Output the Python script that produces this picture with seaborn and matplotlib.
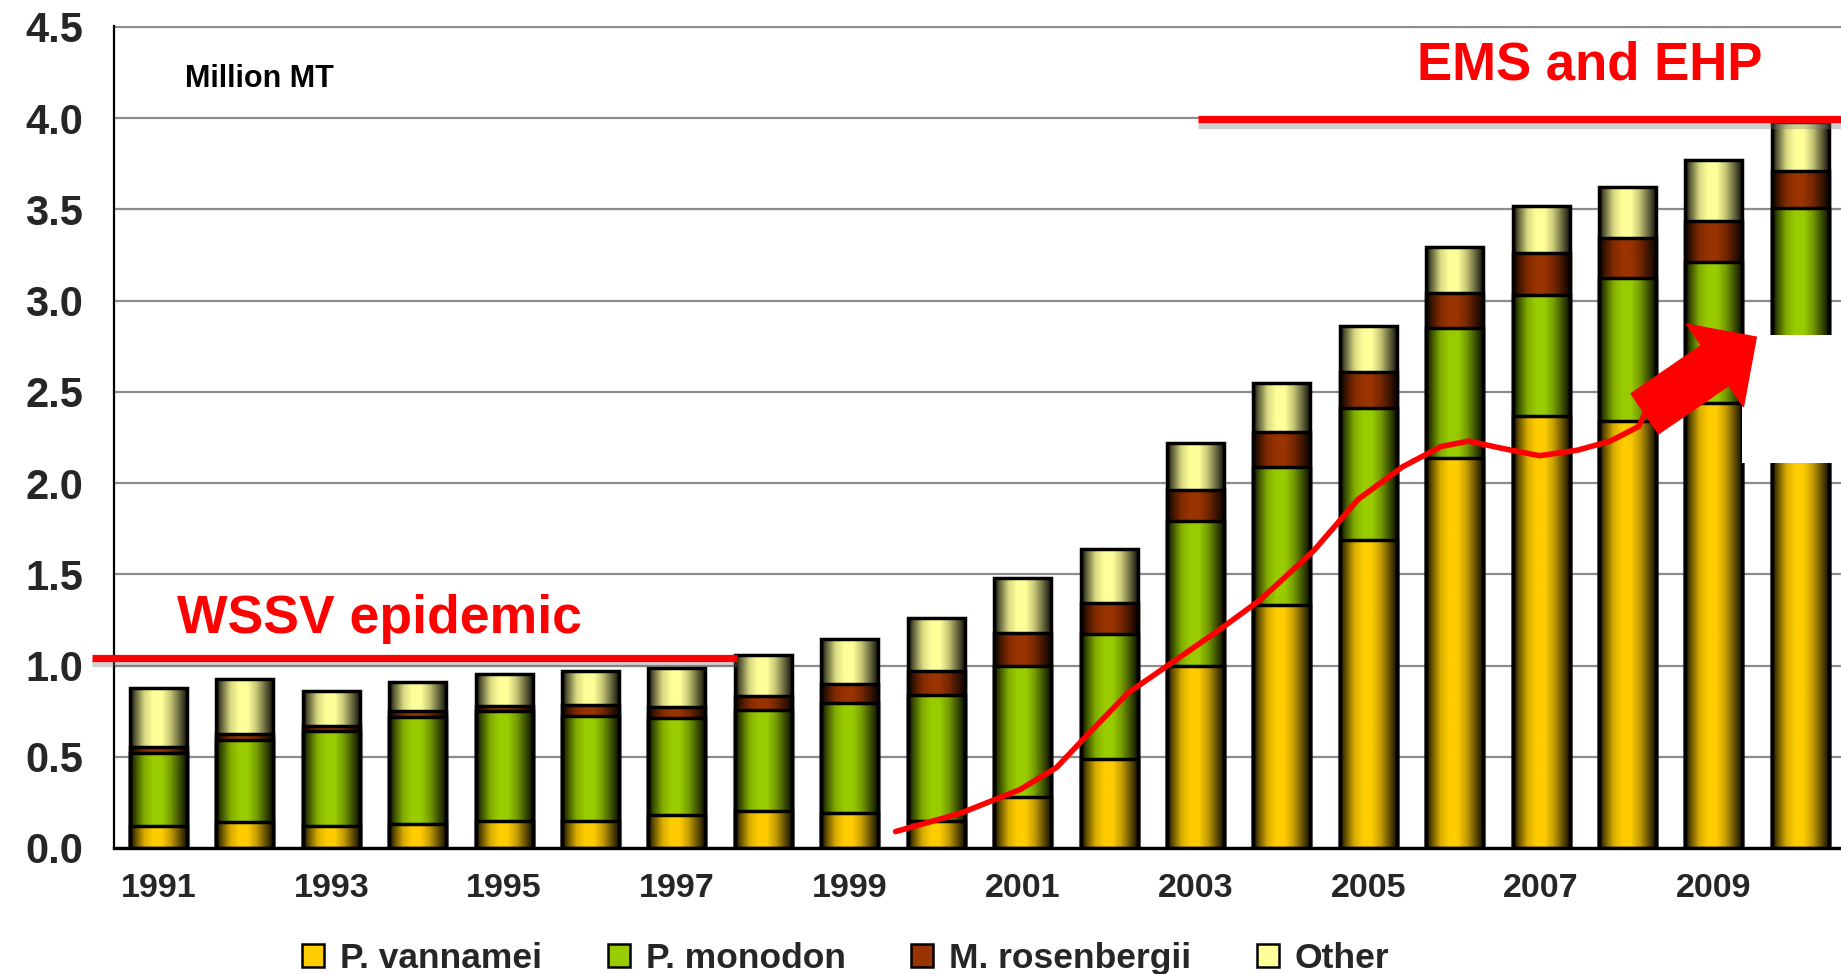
import numpy as np
import pandas as pd
import matplotlib
matplotlib.use("Agg")
import matplotlib.pyplot as plt
import seaborn as sns
from matplotlib.patches import Rectangle, Patch, FancyArrowPatch, ArrowStyle
import matplotlib.patheffects as pe

# Farmed shrimp production by species, million metric tonnes
years = list(range(1991, 2011))
vannamei = [0.12, 0.14, 0.12, 0.13, 0.15, 0.15, 0.18, 0.20, 0.19, 0.15,
            0.28, 0.49, 1.00, 1.33, 1.69, 2.14, 2.37, 2.34, 2.44, 2.60]
monodon = [0.40, 0.45, 0.52, 0.59, 0.60, 0.575, 0.53, 0.555, 0.605, 0.69,
           0.72, 0.68, 0.79, 0.76, 0.72, 0.71, 0.66, 0.785, 0.77, 0.91]
rosenbergii = [0.035, 0.035, 0.03, 0.03, 0.03, 0.06, 0.065, 0.08, 0.105, 0.13,
               0.18, 0.17, 0.17, 0.19, 0.20, 0.19, 0.23, 0.22, 0.225, 0.20]
other = [0.32, 0.30, 0.19, 0.16, 0.175, 0.185, 0.21, 0.225, 0.245, 0.29,
         0.30, 0.30, 0.26, 0.27, 0.25, 0.255, 0.26, 0.275, 0.335, 0.27]

species = ["P. vannamei", "P. monodon", "M. rosenbergii", "Other"]
colors = ["#FFCC00", "#99CC00", "#993300", "#FFFF99"]

# Annotation trend curve (x = bar index, y = million MT)
trend_x = [8.53, 9.28, 9.97, 10.39, 10.73, 11.22, 11.71, 12.26, 12.75, 13.37,
           13.88, 14.40, 14.84, 15.16, 15.55, 15.98, 16.42, 16.80, 17.13, 17.20]
trend_y = [0.09, 0.19, 0.32, 0.44, 0.61, 0.85, 1.01, 1.19, 1.36, 1.63,
           1.91, 2.09, 2.20, 2.23, 2.19, 2.15, 2.18, 2.23, 2.31, 2.38]

sns.set_theme(style="white")
plt.rcParams["font.family"] = ["Liberation Sans", "DejaVu Sans"]
plt.rcParams["font.weight"] = "bold"

df = pd.DataFrame({
    "year": [str(y) for y in years],
    "vannamei": vannamei,
    "monodon": monodon,
    "rosenbergii": rosenbergii,
    "other": other,
})
df["c1"] = df["vannamei"]
df["c2"] = df["c1"] + df["monodon"]
df["c3"] = df["c2"] + df["rosenbergii"]
df["c4"] = df["c3"] + df["other"]

fig, ax = plt.subplots(figsize=(18.41, 9.74), dpi=100)
fig.subplots_adjust(left=0.0619, right=1.0, bottom=0.1294, top=0.9733)

# horizontal cylinder-like shading across each bar
prof_t = [0.0, 0.08, 0.25, 0.40, 0.55, 0.70, 0.85, 1.0]
prof_f = [0.03, 0.35, 0.85, 1.0, 1.0, 0.78, 0.42, 0.05]


def shade_img(color):
    rgb = np.array(matplotlib.colors.to_rgb(color))
    t = np.linspace(0, 1, 80)
    f = np.interp(t, prof_t, prof_f)
    return (f[:, None] * rgb[None, :])[None, :, :]


layers = [("c4", colors[3]), ("c3", colors[2]), ("c2", colors[1]), ("c1", colors[0])]
for k, (col, color) in enumerate(layers):
    n0 = len(ax.patches)
    z = 3 + 2 * k
    sns.barplot(data=df, x="year", y=col, color=color, saturation=1,
                width=0.66, edgecolor="black", linewidth=2.5,
                errorbar=None, ax=ax, zorder=z + 1)
    img = shade_img(color)
    for p in ax.patches[n0:]:
        x0, w, h = p.get_x(), p.get_width(), p.get_height()
        ax.imshow(img, extent=[x0, x0 + w, 0, h], aspect="auto",
                  interpolation="bilinear", zorder=z)
        p.set_facecolor("none")

ax.set_xlim(-0.515, 19.47)
ax.set_ylim(0, 4.505)

ax.yaxis.grid(True, color="#8c8c8c", linewidth=1.6)
ax.xaxis.grid(False)
ax.set_axisbelow(True)
for s in ["top", "right"]:
    ax.spines[s].set_visible(False)
ax.spines["left"].set_color("black")
ax.spines["left"].set_linewidth(1.6)
ax.spines["bottom"].set_color("black")
ax.spines["bottom"].set_linewidth(2.4)
ax.spines["bottom"].set_zorder(12)

ax.set_yticks(np.arange(0, 4.51, 0.5))
ax.set_yticklabels([f"{v:.1f}" for v in np.arange(0, 4.51, 0.5)],
                   fontsize=30, fontweight="bold")
ax.set_xticks(range(0, 20, 2))
ax.set_xticklabels([str(y) for y in years[::2]], fontsize=24.5, fontweight="bold")
ax.tick_params(axis="y", length=0, pad=22)
ax.tick_params(axis="x", length=0, pad=18)
ax.set_xlabel("")
ax.set_ylabel("")

ax.text(0.307, 4.169, "Million MT", fontsize=22, fontweight="bold",
        color="black", ha="left", va="baseline")

shadow = [pe.SimpleLineShadow(offset=(0, -4), shadow_color="#777777", alpha=0.35),
          pe.Normal()]
ax.plot([-0.77, 6.70], [1.043, 1.043], color="red", lw=5.2,
        solid_capstyle="butt", clip_on=False, zorder=14, path_effects=shadow)
ax.text(0.21, 1.176, "WSSV epidemic", color="red", fontsize=38.5,
        fontweight="bold", ha="left", va="baseline", zorder=14)

ax.plot([12.03, 19.6], [3.995, 3.995], color="red", lw=5.2,
        solid_capstyle="butt", zorder=14, path_effects=shadow)
ax.text(14.56, 4.21, "EMS and EHP", color="red", fontsize=38,
        fontweight="bold", ha="left", va="baseline", zorder=14)

# blank panel behind the arrow head
ax.add_patch(Rectangle((18.32, 2.11), 2.0, 0.70, facecolor="white",
                       edgecolor="none", zorder=15))

ax.plot(trend_x, trend_y, color="red", lw=4, solid_joinstyle="round",
        solid_capstyle="round", zorder=16)
arrow = FancyArrowPatch(posA=(17.20, 2.38), posB=(18.49, 2.80),
                        arrowstyle=ArrowStyle.Simple(head_length=3.6, head_width=7.2,
                                                     tail_width=3.5),
                        mutation_scale=10, color="red", shrinkA=0, shrinkB=0,
                        zorder=17)
ax.add_patch(arrow)

handles = [Patch(facecolor=c, edgecolor="black", linewidth=1.8) for c in colors]
fig.legend(handles, species, loc="center", bbox_to_anchor=(0.4595, 0.016),
           ncol=4, frameon=False,
           prop={"family": ["Liberation Sans", "DejaVu Sans"], "weight": "bold", "size": 25.5},
           handlelength=0.62, handleheight=0.62, handletextpad=0.45,
           columnspacing=1.85)

fig.savefig("out.png", dpi=100, facecolor="white")
